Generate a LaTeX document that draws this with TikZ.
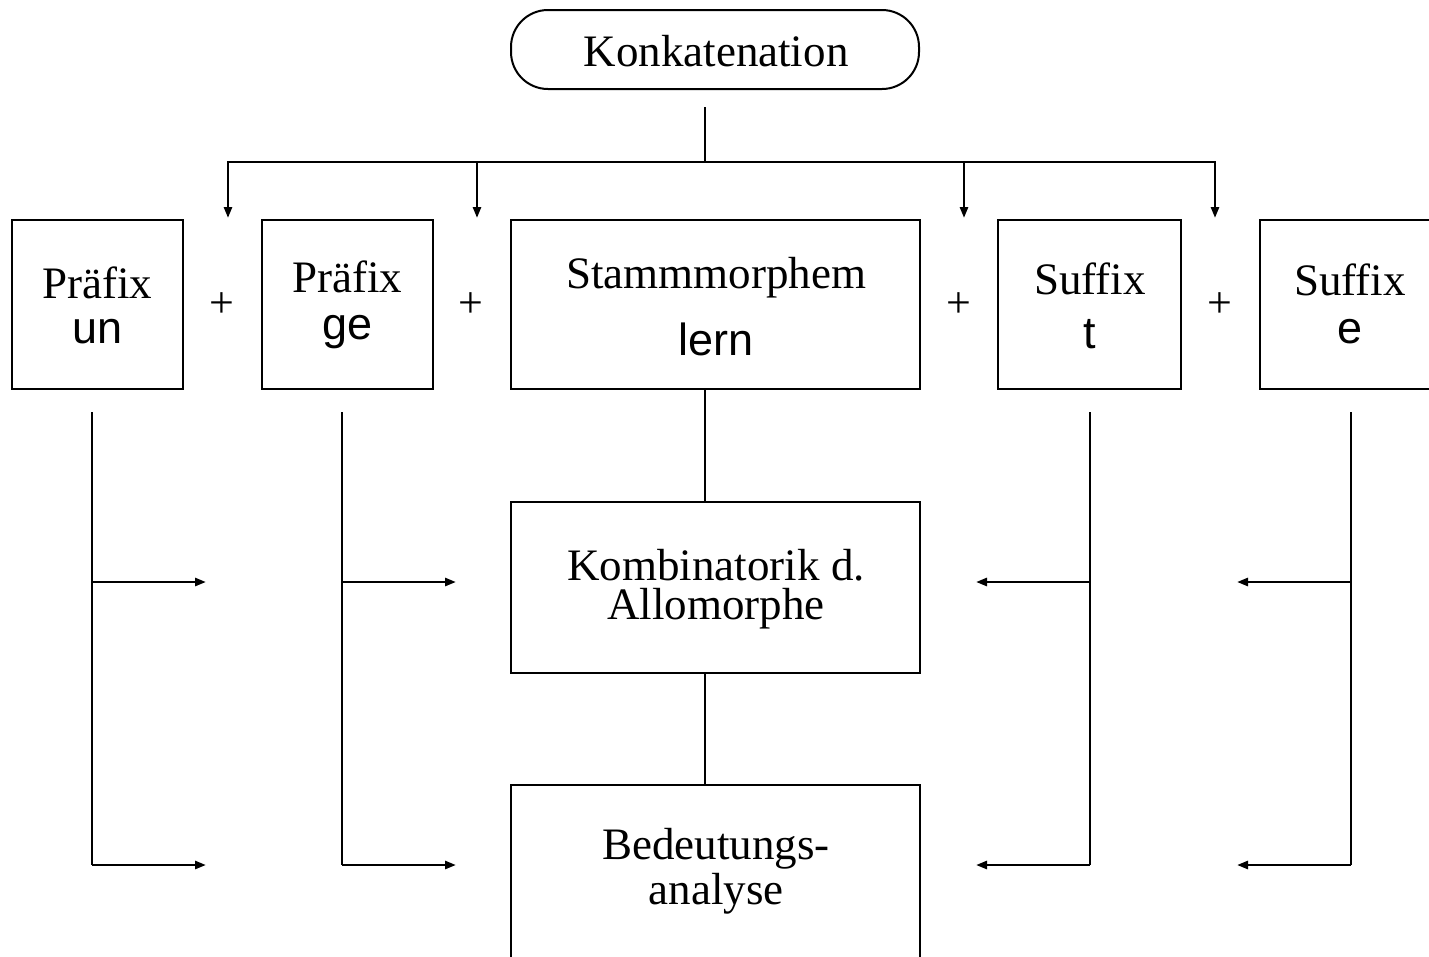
\documentclass[tikz,border=0pt]{standalone}
\usepackage{fontspec}
\setmainfont{Liberation Serif}
\setsansfont{Liberation Sans}
\usetikzlibrary{arrows.meta}

\begin{document}
\begin{tikzpicture}[x=1pt,y=-1pt,
  line width=2.6pt,
  box/.style={draw, line width=2.6pt, inner sep=0pt, minimum height=169pt},
  pill/.style={draw, line width=2pt, inner sep=0pt, rounded corners=37pt,
               minimum width=408pt, minimum height=79pt},
  serif/.style={inner sep=0pt, anchor=base, font=\fontsize{45}{54}\selectfont},
  sans/.style={inner sep=0pt, anchor=base, font=\sffamily\fontsize{45}{54}\selectfont},
  plus/.style={inner sep=0pt, font=\fontsize{44}{44}\selectfont},
  arr/.style={-{Triangle[length=11pt,width=8pt]}},
]
\useasboundingbox (0,0) rectangle (1429,956);

% top: concatenation
\node[pill] (konk) at (715,49.5) {};
\node[serif] (konkT) at (716,66) {Konkatenation};

% morpheme row
\node[box, minimum width=171pt] (pre1) at (97.5,304.5) {};
\node[serif] (pre1a) at (97.5,298) {Präfix};
\node[sans]  (pre1b) at (97.5,343) {un};

\node[box, minimum width=171pt] (pre2) at (347.5,304.5) {};
\node[serif] (pre2a) at (347.5,292) {Präfix};
\node[sans]  (pre2b) at (347.5,339) {ge};

\node[box, minimum width=409pt] (stamm) at (715.5,304.5) {};
\node[serif] (stammA) at (716,288) {Stammmorphem};
\node[sans]  (stammB) at (716,355) {lern};

\node[box, minimum width=183pt] (suf1) at (1089.5,304.5) {};
\node[serif] (suf1a) at (1090,294) {Suffix};
\node[sans]  (suf1b) at (1090,348) {t};

\node[box, minimum width=182pt] (suf2) at (1351,304.5) {};
\node[serif] (suf2a) at (1350,295) {Suffix};
\node[sans]  (suf2b) at (1350,343) {e};

\node[plus] (plus1) at (222,305) {+};
\node[plus] (plus2) at (471,305) {+};
\node[plus] (plus3) at (959,305) {+};
\node[plus] (plus4) at (1220,305) {+};

% analysis boxes
\node[box, minimum width=409pt, minimum height=171pt] (komb) at (715.5,587.5) {};
\node[serif] (kombA) at (716,580) {Kombinatorik d.};
\node[serif] (kombB) at (716,619) {Allomorphe};

\node[box, minimum width=409pt, minimum height=176pt] (bed) at (715.5,873) {};
\node[serif] (bedA) at (716,859) {Bedeutungs-};
\node[serif] (bedB) at (716,904) {analyse};

% distribution bus below the top node
\coordinate (konkfoot) at (705,107);
\coordinate (bus) at (705,162);
\coordinate (d1) at (228,218);
\coordinate (d2) at (477,218);
\coordinate (d3) at (964,218);
\coordinate (d4) at (1215,218);
\draw (konkfoot) -- (bus);
\draw[arr] (bus) -| (d1);
\draw[arr] (bus) -| (d2);
\draw[arr] (bus) -| (d3);
\draw[arr] (bus) -| (d4);

% stem chain
\draw ([xshift=-10.5pt]stamm.south) -- ([xshift=-10.5pt]komb.north);
\draw ([xshift=-10.5pt]komb.south) -- ([xshift=-10.5pt]bed.north);

% feeders from the affixes
\coordinate (f1) at (92,412);   \coordinate (f1e) at (92,865);
\coordinate (f2) at (342,412);  \coordinate (f2e) at (342,865);
\coordinate (f3) at (1090,412); \coordinate (f3e) at (1090,865);
\coordinate (f4) at (1351,412); \coordinate (f4e) at (1351,865);
\coordinate (a1) at (206,582);  \coordinate (a1e) at (206,865);
\coordinate (a2) at (456,582);  \coordinate (a2e) at (456,865);
\coordinate (a3) at (976,582);  \coordinate (a3e) at (976,865);
\coordinate (a4) at (1237,582); \coordinate (a4e) at (1237,865);

\draw (f1) -- (f1e);
\draw[arr] (f1e) -- (a1e);
\draw[arr] (f1 |- a1) -- (a1);
\draw (f2) -- (f2e);
\draw[arr] (f2e) -- (a2e);
\draw[arr] (f2 |- a2) -- (a2);
\draw (f3) -- (f3e);
\draw[arr] (f3e) -- (a3e);
\draw[arr] (f3 |- a3) -- (a3);
\draw (f4) -- (f4e);
\draw[arr] (f4e) -- (a4e);
\draw[arr] (f4 |- a4) -- (a4);
\end{tikzpicture}
\end{document}
